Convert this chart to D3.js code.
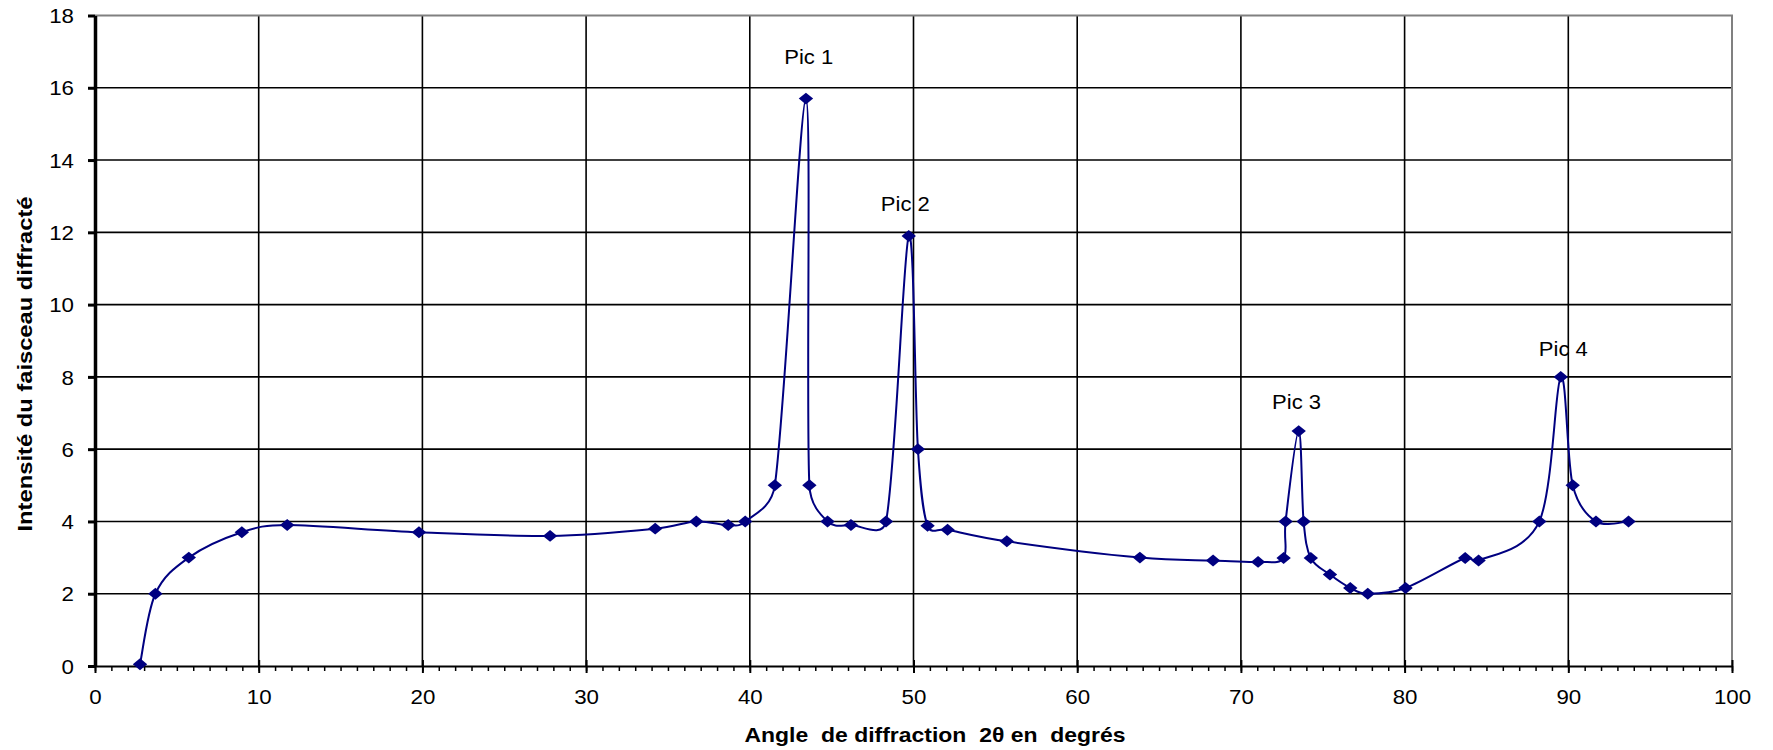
<!DOCTYPE html>
<html lang="fr">
<head>
    <meta charset="UTF-8">
    <title>Diffraction</title>
    <script src="https://d3js.org/d3.v7.min.js"></script>
    <style>
        body { margin: 0; background: #fff; }
        svg { display: block; font-family: "Liberation Sans", Arial, sans-serif; }
        .tick text { font-size: 20px; fill: #000; font-family: "Liberation Sans", Arial, sans-serif; }
    </style>
</head>
<body>
    <svg width="1773" height="750"></svg>
    <script>
        // angle 2θ (degrés) et intensité
        const angles = [2.75, 3.69, 5.73, 8.97, 11.74, 19.79, 27.8, 34.22, 36.73, 38.68, 39.72,
            41.53, 43.43, 43.64, 44.75, 46.18, 48.32, 49.71, 50.27, 50.86, 52.08, 55.7, 63.83,
            68.3, 71.05, 72.61, 72.73, 73.53, 73.83, 74.27, 75.44, 76.68, 77.75, 80.06, 83.7,
            84.52, 88.23, 89.54, 90.27, 91.69, 93.68];
        const intensites = [0.05, 2.0, 3.0, 3.7, 3.9, 3.7, 3.6, 3.8, 4.0, 3.9, 4.0,
            5.0, 15.7, 5.0, 4.0, 3.9, 4.0, 11.9, 6.0, 3.88, 3.77, 3.45, 3.0,
            2.92, 2.88, 2.99, 4.0, 6.5, 4.0, 2.99, 2.53, 2.16, 2.0, 2.16, 2.99,
            2.92, 4.0, 8.0, 5.0, 4.0, 4.0];

        const picNoms = ["Pic 1", "Pic 2", "Pic 3", "Pic 4"];
        const picX = [43.6, 49.5, 73.4, 89.7];
        const picY = [16.67, 12.6, 7.1, 8.58];

        const xTicks = d3.range(0, 101, 10);
        const xMinor = d3.range(0, 101, 1);
        const yTicks = d3.range(0, 19, 2);

        const svg = d3.select('svg');
        const plot = {left: 95, right: 1732, top: 15.5, bottom: 666};

        const x = d3.scaleLinear().domain([0, 100]).range([plot.left, plot.right]);
        const y = d3.scaleLinear().domain([0, 18]).range([plot.bottom, plot.top]);

        const data = angles.map((a, i) => ({x: a, y: intensites[i]}));

        // lissage façon tableur : bezier catmull-rom, bras limités à la moitié du segment
        function CourbeLissee(context) { this._context = context; }
        CourbeLissee.prototype = {
            areaStart() {}, areaEnd() {},
            lineStart() { this._pts = []; },
            point(px, py) { this._pts.push([+px, +py]); },
            lineEnd() {
                const p = this._pts, n = p.length, c = this._context;
                if (!n) return;
                c.moveTo(p[0][0], p[0][1]);
                for (let i = 0; i < n - 1; i++) {
                    const p0 = p[Math.max(i - 1, 0)], p1 = p[i], p2 = p[i + 1], p3 = p[Math.min(i + 2, n - 1)];
                    const seg = Math.hypot(p2[0] - p1[0], p2[1] - p1[1]) * 0.5;
                    const cap = v => {
                        const l = Math.hypot(v[0], v[1]);
                        return l > seg ? [v[0] * seg / l, v[1] * seg / l] : v;
                    };
                    const a = cap([(p2[0] - p0[0]) / 6, (p2[1] - p0[1]) / 6]);
                    const b = cap([(p3[0] - p1[0]) / 6, (p3[1] - p1[1]) / 6]);
                    c.bezierCurveTo(p1[0] + a[0], p1[1] + a[1], p2[0] - b[0], p2[1] - b[1], p2[0], p2[1]);
                }
            }
        };
        const courbe = ctx => new CourbeLissee(ctx);

        // quadrillage
        svg.append('g')
            .selectAll('line')
            .data(yTicks.filter(d => d > 0 && d < 18))
            .join('line')
            .attr('x1', plot.left).attr('x2', plot.right)
            .attr('y1', d => y(d)).attr('y2', d => y(d))
            .attr('stroke', '#000').attr('stroke-width', 1.6);

        svg.append('g')
            .selectAll('line')
            .data(xTicks.filter(d => d > 0 && d < 100))
            .join('line')
            .attr('x1', d => x(d)).attr('x2', d => x(d))
            .attr('y1', plot.top).attr('y2', plot.bottom)
            .attr('stroke', '#000').attr('stroke-width', 1.6);

        // cadre haut et droite
        svg.append('path')
            .attr('d', `M${plot.left},${plot.top}H${plot.right}V${plot.bottom}`)
            .attr('fill', 'none')
            .attr('stroke', '#808080')
            .attr('stroke-width', 2);

        // axe x: petites graduations
        svg.append('g')
            .attr('transform', `translate(0,${plot.bottom})`)
            .call(d3.axisBottom(x).tickValues(xMinor).tickSize(5).tickFormat(''))
            .call(g => g.select('.domain').remove())
            .call(g => g.selectAll('.tick line').attr('stroke-width', 1.5));

        const xAxis = svg.append('g')
            .attr('transform', `translate(0,${plot.bottom})`)
            .call(d3.axisBottom(x).tickValues(xTicks).tickSize(7).tickSizeOuter(0));
        xAxis.select('.domain').attr('stroke-width', 2);
        xAxis.selectAll('.tick line').attr('y1', -6).attr('stroke-width', 2);
        xAxis.selectAll('.tick text').attr('y', 38).attr('dy', 0)
            .attr('textLength', d => String(d).length * 12.4)
            .attr('lengthAdjust', 'spacingAndGlyphs');

        const yAxis = svg.append('g')
            .attr('transform', `translate(${plot.left},0)`)
            .call(d3.axisLeft(y).tickValues(yTicks).tickSize(7).tickSizeOuter(0));
        yAxis.select('.domain').attr('stroke-width', 3.5);
        yAxis.selectAll('.tick line').attr('stroke-width', 3);
        yAxis.selectAll('.tick text').attr('x', -21).attr('dy', '0.36em')
            .attr('textLength', d => String(d).length * 12.4)
            .attr('lengthAdjust', 'spacingAndGlyphs');

        // courbe lissée
        const line = d3.line()
            .x(d => x(d.x))
            .y(d => y(d.y))
            .curve(courbe);

        svg.append('path')
            .datum(data)
            .attr('fill', 'none')
            .attr('stroke', '#000080')
            .attr('stroke-width', 2)
            .attr('d', line);

        // marqueurs losange
        const losange = {
            draw(ctx, size) {
                const w = Math.sqrt(size) * 0.75, h = Math.sqrt(size) * 0.62;
                ctx.moveTo(0, -h);
                ctx.lineTo(w, 0);
                ctx.lineTo(0, h);
                ctx.lineTo(-w, 0);
                ctx.closePath();
            }
        };
        svg.append('g')
            .selectAll('path')
            .data(data)
            .join('path')
            .attr('transform', d => `translate(${x(d.x)},${y(d.y)})`)
            .attr('d', d3.symbol(losange, 92))
            .attr('fill', '#000080');

        // étiquettes des pics
        svg.append('g')
            .selectAll('text')
            .data(picNoms)
            .join('text')
            .attr('x', (d, i) => x(picX[i]))
            .attr('y', (d, i) => y(picY[i]))
            .attr('text-anchor', 'middle')
            .attr('font-size', 20)
            .attr('textLength', 49)
            .attr('lengthAdjust', 'spacingAndGlyphs')
            .text(d => d);

        // titres des axes
        svg.append('text')
            .attr('x', 935)
            .attr('y', 742)
            .attr('text-anchor', 'middle')
            .attr('font-size', 21)
            .attr('font-weight', 'bold')
            .attr('textLength', 381)
            .attr('lengthAdjust', 'spacingAndGlyphs')
            .style('white-space', 'pre')
            .text('Angle  de diffraction  2θ en  degrés');

        svg.append('text')
            .attr('transform', 'translate(32,364) rotate(-90)')
            .attr('text-anchor', 'middle')
            .attr('font-size', 20)
            .attr('font-weight', 'bold')
            .attr('textLength', 335)
            .attr('lengthAdjust', 'spacingAndGlyphs')
            .text('Intensité du faisceau diffracté');
    </script>
</body>
</html>
